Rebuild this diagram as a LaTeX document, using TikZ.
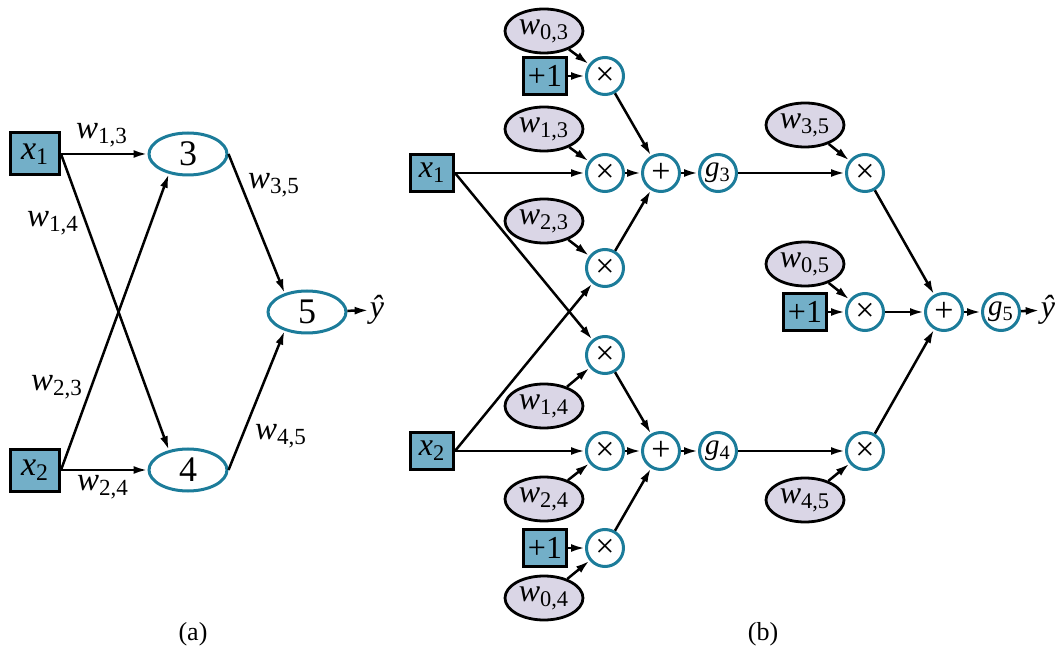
\documentclass[tikz,border=0pt]{standalone}
\usepackage{fontspec}
\setmainfont{Liberation Serif}
\usepackage{xcolor}
\usepackage{tikz}
\usetikzlibrary{
arrows.meta,
positioning,
shapes.geometric
}
\definecolor{boxblue}{RGB}{115,175,200}
\definecolor{ringteal}{RGB}{28,124,154}
\definecolor{wfill}{RGB}{218,214,230}
\newcommand{\vsub}[2]{\textit{#1}\textsubscript{#2}}

\begin{document}
\begin{tikzpicture}[
  x=0.5pt, y=-0.5pt,
  line width=1.25pt,
  >={Latex[length=7pt,width=4pt]},
  every node/.style={inner sep=0pt, font=\fontsize{16}{18}\selectfont},
  inbox/.style={draw, fill=boxblue, line width=1.5pt,
    minimum width=24.5pt, minimum height=21pt, font=\fontsize{17}{18}\selectfont},
  smallbox/.style={draw, fill=boxblue, line width=1.5pt,
    minimum width=21.5pt, minimum height=18.5pt},
  unit/.style={draw=ringteal, ellipse, line width=1.5pt,
    minimum width=39pt, minimum height=21pt, font=\fontsize{18}{18}\selectfont},
  opnode/.style={draw=ringteal, circle, line width=1.5pt, fill=white,
    minimum size=18.5pt, font=\fontsize{17}{18}\selectfont},
  gnode/.style={opnode, font=\fontsize{14.5}{16}\selectfont},
  weight/.style={draw, ellipse, fill=wfill, line width=1.4pt,
    minimum width=39pt, minimum height=22pt},
  wlbl/.style={font=\fontsize{16.5}{18}\selectfont},
  caption/.style={font=\fontsize{13}{15}\selectfont}
]
\useasboundingbox (0,0) rectangle (1061,652);

% (a)
\node[inbox] (ax1) at (35,154) {\vsub{x}{1}};
\node[inbox] (ax2) at (35,470) {\vsub{x}{2}};
\node[unit] (u3) at (188,154) {3};
\node[unit] (u4) at (188,470) {4};
\node[unit] (u5) at (307,312) {5};
\node (ayhat) at (377,310) {\textit{ŷ}};

\node[wlbl] (lw13) at (102,135) {\vsub{w}{1,3}};
\node[wlbl] (lw14) at (53,223) {\vsub{w}{1,4}};
\node[wlbl] (lw23) at (57,387) {\vsub{w}{2,3}};
\node[wlbl] (lw24) at (103,487) {\vsub{w}{2,4}};
\node[wlbl] (lw35) at (274,185) {\vsub{w}{3,5}};
\node[wlbl] (lw45) at (281,436) {\vsub{w}{4,5}};

\draw[->] (ax1) -- (u3);
\draw[->] (ax1.east) -- (u4.134);
\draw[->] (ax2.east) -- (u3.226);
\draw[->] (ax2) -- (u4);
\draw[->] (u3.east) -- (u5.140);
\draw[->] (u4.east) -- (u5.220);
\draw[->] (u5) -- (ayhat);

\node[caption] (capa) at (193,634) {(a)};

% (b)
\node[weight] (w03) at (544,31) {\vsub{w}{0,3}};
\node[smallbox] (one3) at (545,76) {+1};
\node[opnode] (m03) at (605,76) {×};
\node[weight] (w13) at (544,129) {\vsub{w}{1,3}};
\node[smallbox] (bx1) at (432,173) {\vsub{x}{1}};
\node[opnode] (m13) at (605,173) {×};
\node[opnode] (s3) at (661,173) {+};
\node[gnode] (g3) at (718,173) {\vsub{g}{3}};
\node[weight] (w23) at (544,221) {\vsub{w}{2,3}};
\node[opnode] (m23) at (605,268) {×};

\node[opnode] (m14) at (605,355) {×};
\node[weight] (w14) at (544,406) {\vsub{w}{1,4}};
\node[smallbox] (bx2) at (432,451) {\vsub{x}{2}};
\node[opnode] (m24) at (605,451) {×};
\node[opnode] (s4) at (661,451) {+};
\node[gnode] (g4) at (718,451) {\vsub{g}{4}};
\node[weight] (w24) at (544,499) {\vsub{w}{2,4}};
\node[smallbox] (one4) at (545,548) {+1};
\node[opnode] (m04) at (605,548) {×};
\node[weight] (w04) at (544,598) {\vsub{w}{0,4}};

\node[weight] (w35) at (805,125) {\vsub{w}{3,5}};
\node[opnode] (m35) at (865,173) {×};
\node[weight] (w05) at (805,264) {\vsub{w}{0,5}};
\node[smallbox] (one5) at (805,312) {+1};
\node[opnode] (m05) at (865,312) {×};
\node[opnode] (s5) at (944,312) {+};
\node[gnode] (g5) at (1001,312) {\vsub{g}{5}};
\node (byhat) at (1048,310) {\textit{ŷ}};
\node[opnode] (m45) at (865,451) {×};
\node[weight] (w45) at (805,500) {\vsub{w}{4,5}};

\draw[->] (w03) -- (m03);
\draw[->] (one3) -- (m03);
\draw[->] (m03) -- (s3);
\draw[->] (w13) -- (m13);
\draw[->] (bx1) -- (m13);
\draw[->] (m13) -- (s3);
\draw[->] (w23) -- (m23);
\draw[->] (m23) -- (s3);
\draw[->] (s3) -- (g3);
\draw[->] (bx1.east) -- (m14);
\draw[->] (bx2.east) -- (m23);

\draw[->] (w14) -- (m14);
\draw[->] (m14) -- (s4);
\draw[->] (bx2) -- (m24);
\draw[->] (w24) -- (m24);
\draw[->] (m24) -- (s4);
\draw[->] (one4) -- (m04);
\draw[->] (w04) -- (m04);
\draw[->] (m04) -- (s4);
\draw[->] (s4) -- (g4);

\draw[->] (g3) -- (m35);
\draw[->] (w35) -- (m35);
\draw[->] (m35) -- (s5);
\draw[->] (w05) -- (m05);
\draw[->] (one5) -- (m05);
\draw[->] (m05) -- (s5);
\draw[->] (g4) -- (m45);
\draw[->] (w45) -- (m45);
\draw[->] (m45) -- (s5);
\draw[->] (s5) -- (g5);
\draw[->] (g5) -- (byhat);

\node[caption] (capb) at (763,634) {(b)};

\end{tikzpicture}
\end{document}
